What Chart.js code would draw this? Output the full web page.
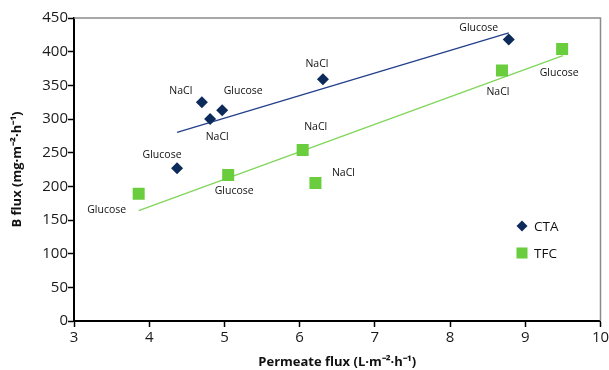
<!DOCTYPE html>
<html><head><meta charset="utf-8">
<script src="https://cdn.jsdelivr.net/npm/chart.js@4/dist/chart.umd.min.js"></script>
<style>html,body{margin:0;padding:0;background:#fff}#wrap{width:609px;height:370px}</style>
</head><body><div id="wrap"><canvas id="c" width="609" height="370"></canvas></div>
<script>
// ---- data ----
const ctaX = [4.37, 4.70, 4.81, 4.97, 6.31, 8.78];
const ctaY = [227, 325, 300, 313, 359, 418];
const ctaLabels = ['Glucose', 'NaCl', 'NaCl', 'Glucose', 'NaCl', 'Glucose'];
const tfcX = [3.86, 5.05, 6.04, 6.21, 8.69, 9.49];
const tfcY = [189, 217, 254, 205, 372, 404];
const tfcLabels = ['Glucose', 'Glucose', 'NaCl', 'NaCl', 'NaCl', 'Glucose'];
const ctaTrendX = [4.37, 8.78];
const ctaTrendY = [280, 428];
const tfcTrendX = [3.86, 9.50];
const tfcTrendY = [164, 394];
const seriesNames = ['CTA', 'TFC'];
const xTicks = [3, 4, 5, 6, 7, 8, 9, 10];
const yTicks = [0, 50, 100, 150, 200, 250, 300, 350, 400, 450];
const xTitle = 'Permeate flux (L·m⁻²·h⁻¹)';
const yTitle = 'B flux (mg·m⁻²·h⁻¹)';

// ---- styles ----
const ctaColor = '#0d2b5a';
const tfcColor = '#6acd3e';
const ctaLineColor = '#233f8a';
const tfcLineColor = '#7fd65a';
const ctaLabelOffsets = [[-15,-13],[-21,-11],[7,18],[21,-19],[-6,-15],[-30,-12]];
const tfcLabelOffsets = [[-32,16],[6,16],[13,-23],[28,-10],[-4,21],[-3,24]];
const FONT = '"Open Sans", "Liberation Sans", sans-serif';

const pts = (xs, ys) => xs.map((x, i) => ({x: x, y: ys[i]}));

const pointLabelPlugin = {
  id: 'pointLabels',
  afterDatasetsDraw(chart) {
    const ctx = chart.ctx;
    ctx.save();
    ctx.font = '10.5px ' + FONT;
    ctx.fillStyle = '#111';
    ctx.textAlign = 'center';
    ctx.textBaseline = 'middle';
    chart.data.datasets.forEach((ds, di) => {
      if (!ds.pointLabels) return;
      const meta = chart.getDatasetMeta(di);
      meta.data.forEach((el, i) => {
        const off = ds.labelOffsets[i];
        ctx.fillText(ds.pointLabels[i], el.x + off[0], el.y + off[1]);
      });
    });
    ctx.restore();
  }
};

const frameLegendPlugin = {
  id: 'frameLegend',
  beforeDatasetsDraw(chart) {
    const {ctx, chartArea: a} = chart;
    ctx.save();
    ctx.strokeStyle = '#8a8a8a';
    ctx.lineWidth = 1.5;
    ctx.beginPath();
    ctx.moveTo(a.left, a.top);
    ctx.lineTo(a.right, a.top);
    ctx.lineTo(a.right, a.bottom);
    ctx.stroke();
    ctx.restore();
  },
  afterDraw(chart) {
    const ctx = chart.ctx;
    const lx = 522, ly = 226, gap = 27;
    ctx.save();
    chart.data.datasets.filter(d => d.inLegend).forEach((ds, i) => {
      const y = ly + i * gap;
      ctx.fillStyle = ds.backgroundColor;
      ctx.strokeStyle = ds.borderColor;
      ctx.lineWidth = 0;
      Chart.helpers.drawPoint(ctx, {pointStyle: ds.pointStyle, radius: ds.legendRadius, rotation: 0, borderWidth: 0}, lx, y);
      ctx.fillStyle = '#111';
      ctx.font = '13.5px ' + FONT;
      ctx.textAlign = 'left';
      ctx.textBaseline = 'middle';
      ctx.fillText(ds.label, lx + 12, y + 1);
    });
    ctx.restore();
  }
};

new Chart(document.getElementById('c'), {
  type: 'scatter',
  data: {
    datasets: [
      {label: seriesNames[0], data: pts(ctaX, ctaY), pointStyle: 'rectRot', pointRadius: 6, pointHoverRadius: 6,
       backgroundColor: ctaColor, borderColor: ctaColor, borderWidth: 0, pointLabels: ctaLabels, labelOffsets: ctaLabelOffsets,
       inLegend: true, legendRadius: 5.5, order: 1},
      {label: seriesNames[1], data: pts(tfcX, tfcY), pointStyle: 'rect', pointRadius: 8.5, pointHoverRadius: 8.5,
       backgroundColor: tfcColor, borderColor: tfcColor, borderWidth: 0, pointLabels: tfcLabels, labelOffsets: tfcLabelOffsets,
       inLegend: true, legendRadius: 7.8, order: 1},
      {label: 'CTA trend', type: 'line', data: pts(ctaTrendX, ctaTrendY), showLine: true, pointRadius: 0,
       borderColor: ctaLineColor, borderWidth: 1.3, fill: false, order: 2},
      {label: 'TFC trend', type: 'line', data: pts(tfcTrendX, tfcTrendY), showLine: true, pointRadius: 0,
       borderColor: tfcLineColor, borderWidth: 1.3, fill: false, order: 2}
    ]
  },
  options: {
    responsive: false,
    animation: false,
    layout: {padding: {left: 0, right: 8, top: 18, bottom: 0}},
    plugins: {legend: {display: false}, tooltip: {enabled: false}},
    scales: {
      x: {
        type: 'linear', min: 3, max: 10,
        afterBuildTicks: s => { s.ticks = xTicks.map(v => ({value: v})); },
        afterFit: s => { s.height = 49; s.paddingLeft = 0; s.paddingRight = 0; },
        grid: {drawOnChartArea: false, drawTicks: true, tickLength: 6, color: '#000', tickWidth: 1.5},
        border: {color: '#000', width: 2},
        ticks: {color: '#1a1a1a', font: {family: FONT, size: 15}, padding: 2},
        title: {display: true, text: xTitle, color: '#111', font: {family: FONT, size: 13, weight: 'bold'}, padding: {top: 0, bottom: 0}}
      },
      y: {
        type: 'linear', min: 0, max: 450,
        afterBuildTicks: s => { s.ticks = yTicks.map(v => ({value: v})); },
        afterFit: s => { s.width = 74; s.paddingTop = 0; s.paddingBottom = 0; },
        grid: {drawOnChartArea: false, drawTicks: true, tickLength: 6, color: '#000', tickWidth: 1.5},
        border: {color: '#000', width: 2},
        ticks: {color: '#1a1a1a', font: {family: FONT, size: 15}, padding: 0},
        title: {display: true, text: yTitle, color: '#111', font: {family: FONT, size: 13, weight: 'bold'}, padding: {top: 9, bottom: 0}}
      }
    }
  },
  plugins: [pointLabelPlugin, frameLegendPlugin]
});
</script>
</body></html>
